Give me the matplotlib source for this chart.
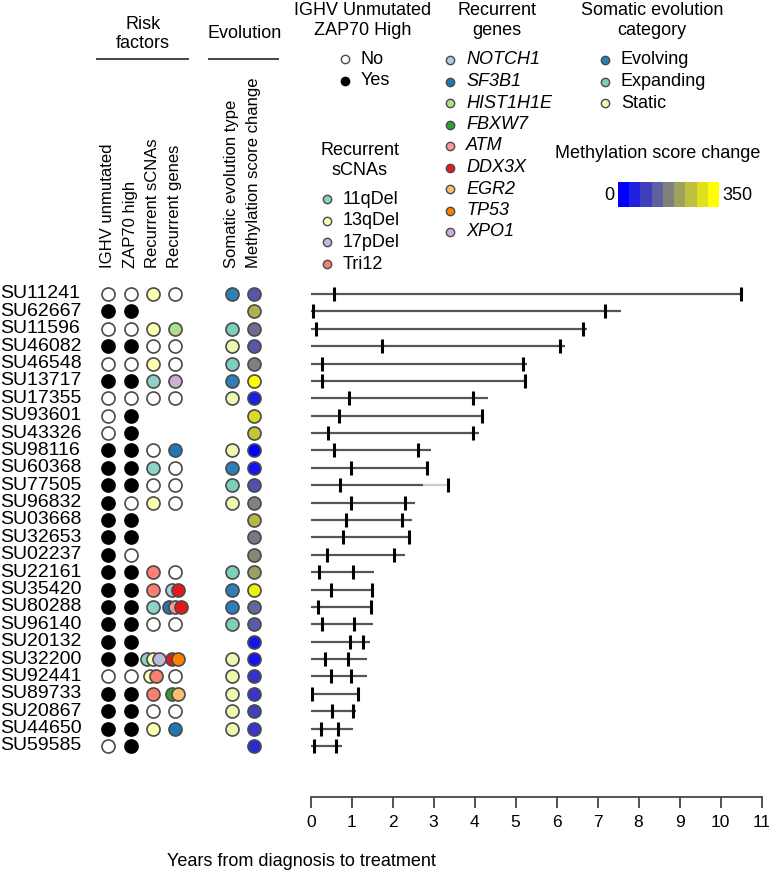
import numpy as np
import matplotlib
matplotlib.use('Agg')
from matplotlib import pyplot as plt
from matplotlib import transforms
from matplotlib.colors import LinearSegmentedColormap
from matplotlib.lines import Line2D

plt.rcParams['font.family'] = ['Liberation Sans', 'DejaVu Sans']

samples = ['SU11241', 'SU62667', 'SU11596', 'SU46082', 'SU46548', 'SU13717', 'SU17355',
           'SU93601', 'SU43326', 'SU98116', 'SU60368', 'SU77505', 'SU96832', 'SU03668',
           'SU32653', 'SU02237', 'SU22161', 'SU35420', 'SU80288', 'SU96140', 'SU20132',
           'SU32200', 'SU92441', 'SU89733', 'SU20867', 'SU44650', 'SU59585']
ighv = [0, 1, 0, 1, 0, 1, 0, 0, 0, 1, 1, 1, 1, 1, 1, 1, 1, 1, 1, 1, 1, 1, 0, 1, 1, 1, 0]
zap70 = [0, 1, 0, 1, 0, 1, 0, 1, 1, 1, 1, 1, 0, 1, 1, 0, 1, 1, 1, 1, 1, 1, 0, 1, 1, 1, 1]
# None = not assessed, '' = nothing found
scnas = ['13qDel', None, '13qDel', '', '13qDel', '11qDel', '', None, None, '', '11qDel', '',
         '13qDel', None, None, None, 'Tri12', 'Tri12', '11qDel', '', None,
         '11qDel|13qDel|17pDel', '13qDel|Tri12', 'Tri12', '', '13qDel', None]
genes = ['', None, 'HIST1H1E', '', '', 'XPO1', '', None, None, 'SF3B1', '', '', '', None,
         None, None, '', 'NOTCH1|DDX3X', 'SF3B1|ATM|DDX3X', '', None, 'DDX3X|TP53', '',
         'FBXW7|EGR2', '', 'SF3B1', None]
somatic = ['Evolving', None, 'Expanding', 'Static', 'Expanding', 'Evolving', 'Static', None,
           None, 'Static', 'Evolving', 'Expanding', 'Static', None, None, None, 'Expanding',
           'Evolving', 'Evolving', 'Expanding', None, 'Static', 'Static', 'Static', 'Static',
           'Static', None]
meth_change = [120, 240, 150, 120, 175, 350, 40, 300, 270, 0, 30, 110, 180, 250, 165, 185,
               215, 330, 140, 125, 30, 30, 70, 75, 90, 75, 60]

first_sample = [0.58, 0.05, 0.12, 1.75, 0.27, 0.27, 0.93, 0.68, 0.43, 0.58, 0.98, 0.71, 0.99,
                0.85, 0.78, 0.40, 0.20, 0.50, 0.17, 0.28, 0.96, 0.36, 0.49, 0.02, 0.52, 0.25, 0.08]
second_sample = [10.51, 7.19, 6.65, 6.08, 5.18, 5.23, 3.95, 4.19, 3.95, 2.63, 2.83, 3.34, 2.30,
                 2.23, 2.41, 2.04, 1.04, 1.49, 1.48, 1.06, 1.27, 0.90, 0.98, 1.15, 1.04, 0.67, 0.61]
treatment = [10.51, 7.58, 6.73, 6.21, 5.27, 5.23, 4.32, 4.23, 4.11, 2.94, 2.83, 2.75, 2.55,
             2.47, 2.41, 2.31, 1.54, 1.49, 1.48, 1.51, 1.45, 1.38, 1.38, 1.20, 1.10, 1.02, 0.76]

scna_names = ['11qDel', '13qDel', '17pDel', 'Tri12']
scna_colors = ['#8dd3c7', '#ffffb3', '#bebada', '#fb8072']
gene_names = ['NOTCH1', 'SF3B1', 'HIST1H1E', 'FBXW7', 'ATM', 'DDX3X', 'EGR2', 'TP53', 'XPO1']
gene_colors = ['#a6cee3', '#1f78b4', '#b2df8a', '#33a02c', '#fb9a99', '#e31a1c', '#fdbf6f',
               '#ff7f00', '#cab2d6']
evo_names = ['Evolving', 'Expanding', 'Static']
evo_colors = ['#2c7fb8', '#7fcdbb', '#edf8b1']
meth_max = 350
meth_cmap = LinearSegmentedColormap.from_list('meth', ['#0000ff', '#808080', '#ffff00'])

W, H = 769, 884
fs = 13
edge = '#4a4a4a'


def fx(px):
    return px / W


def fy(py):
    return 1 - py / H


fig = plt.figure(figsize=(W / 100, H / 100), dpi=100)

n = len(samples)
rows = np.arange(n)
y_top_px, y_bot_px = 285.3, 797
ylim = (n - 1 + 2.934, -0.5)

# dot matrix, x in pixel units
ax_d = fig.add_axes([fx(90), fy(y_bot_px), (280 - 90) / W, (y_bot_px - y_top_px) / H])
ax_d.set_xlim(90, 280)
ax_d.set_ylim(*ylim)
ax_d.axis('off')
col_x = [108, 131, 153, 175, 232, 254]
dot_s = 88
step = 6


def dots(x, y, colors):
    k = len(colors)
    for j, c in enumerate(colors):
        ax_d.scatter(x + (j - (k - 1) / 2) * step, y, s=dot_s, color=c, edgecolor=edge,
                     linewidth=1.2, zorder=3 + j)


for i in rows:
    for x, v in zip(col_x[:2], (ighv[i], zap70[i])):
        ax_d.scatter(x, i, s=dot_s, color='black' if v else 'white',
                     edgecolor='black' if v else edge, linewidth=1.2, zorder=3)
    for x, val, names, cols in ((col_x[2], scnas[i], scna_names, scna_colors),
                                (col_x[3], genes[i], gene_names, gene_colors)):
        if val is None:
            continue
        if val == '':
            dots(x, i, ['white'])
        else:
            dots(x, i, [cols[names.index(g)] for g in val.split('|')])
    if somatic[i] is not None:
        dots(col_x[4], i, [evo_colors[evo_names.index(somatic[i])]])
    dots(col_x[5], i, [meth_cmap(meth_change[i] / meth_max)])

# row labels
tr = transforms.blended_transform_factory(fig.transFigure, ax_d.transData)
for i, s in enumerate(samples):
    ax_d.text(fx(0), i, s, transform=tr, ha='left', va='center', fontsize=14)

# column headers
col_labels = ['IGHV unmutated', 'ZAP70 high', 'Recurrent sCNAs', 'Recurrent genes',
              'Somatic evolution type', 'Methylation score change']
for x, lab in zip(col_x, col_labels):
    fig.text(fx(x - 0.5), fy(268), lab, rotation=90, ha='center', va='bottom', fontsize=12)

fig.text(fx(143), fy(34), 'Risk\nfactors', ha='center', va='center', fontsize=fs,
         linespacing=1.2)
fig.text(fx(245), fy(33), 'Evolution', ha='center', va='center', fontsize=fs)
for x0, x1 in ((97, 188), (209, 278)):
    fig.add_artist(Line2D([fx(x0), fx(x1)], [fy(59), fy(59)], color='#444444', lw=1.4))

# timeline
ax_t = fig.add_axes([fx(310.7), fy(y_bot_px), 450.8 / W, (y_bot_px - y_top_px) / H])
ax_t.set_xlim(0, 11)
ax_t.set_ylim(*ylim)
for sp in ('top', 'right', 'left'):
    ax_t.spines[sp].set_visible(False)
ax_t.spines['bottom'].set_color('#444444')
ax_t.spines['bottom'].set_linewidth(1.3)
ax_t.set_yticks([])
ax_t.set_xticks(range(12))
ax_t.tick_params(axis='x', length=8, width=1.3, color='#444444', labelsize=12.5, pad=5)
ax_t.patch.set_alpha(0)

for i in rows:
    ax_t.plot([0, treatment[i]], [i, i], color='#555555', lw=1.6, solid_capstyle='butt')
    if second_sample[i] > treatment[i]:
        ax_t.plot([treatment[i], second_sample[i]], [i, i], color='#cccccc', lw=1.6,
                  solid_capstyle='butt')
    ax_t.plot([first_sample[i], second_sample[i]], [i, i], ls='none', marker='|',
              markersize=9.5, mew=2.2, color='black')

fig.text(fx(436), fy(861), 'Years from diagnosis to treatment', ha='right', va='center',
         fontsize=fs)

# legends


def legend_block(xm, xt, y0, dy, labels, colors, italic=False):
    for j, (lab, c) in enumerate(zip(labels, colors)):
        ec = 'black' if c == 'black' else edge
        fig.add_artist(Line2D([fx(xm)], [fy(y0 + j * dy)], ls='none', marker='o',
                              markersize=6, markerfacecolor=c, markeredgecolor=ec,
                              markeredgewidth=1))
        fig.text(fx(xt), fy(y0 + j * dy), lab, ha='left', va='center', fontsize=fs,
                 style='italic' if italic else 'normal')


fig.text(fx(363), fy(20.5), 'IGHV Unmutated\nZAP70 High', ha='center', va='center',
         fontsize=fs, linespacing=1.2)
legend_block(345, 361, 59, 21.7, ['No', 'Yes'], ['white', 'black'])

fig.text(fx(360), fy(160.5), 'Recurrent\nsCNAs', ha='center', va='center', fontsize=fs,
         linespacing=1.2)
legend_block(327, 343, 199, 21.7, scna_names, scna_colors)

fig.text(fx(497), fy(20.5), 'Recurrent\ngenes', ha='center', va='center', fontsize=fs,
         linespacing=1.2)
legend_block(450, 466, 60, 21.5, gene_names, gene_colors, italic=True)

fig.text(fx(652), fy(20.5), 'Somatic evolution\ncategory', ha='center', va='center',
         fontsize=fs, linespacing=1.2)
legend_block(605, 621, 60, 21.7, evo_names, evo_colors)

fig.text(fx(658), fy(154), 'Methylation score change', ha='center', va='center',
         fontsize=fs)
ax_c = fig.add_axes([fx(618), fy(207), 101 / W, 25 / H])
ax_c.imshow(np.linspace(0, meth_max, 9)[None, :], cmap=meth_cmap, vmin=0, vmax=meth_max,
            aspect='auto')
ax_c.axis('off')
fig.text(fx(614), fy(195), '0', ha='right', va='center', fontsize=fs)
fig.text(fx(722), fy(195), str(meth_max), ha='left', va='center', fontsize=fs)

fig.savefig('out.png', dpi=100)
